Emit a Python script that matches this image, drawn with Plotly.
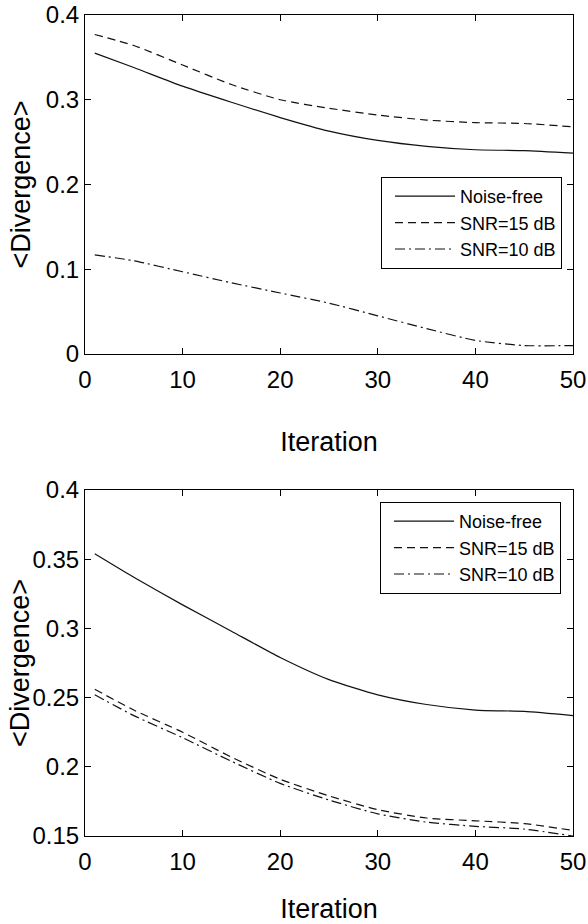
import plotly.graph_objects as go

iterations = [1, 5, 10, 15, 20, 25, 30, 35, 40, 45, 50]

# Top panel
top_noise_free = [0.355, 0.338, 0.316, 0.297, 0.279, 0.263, 0.252, 0.245, 0.241, 0.240, 0.237]
top_snr15 = [0.377, 0.364, 0.341, 0.318, 0.300, 0.290, 0.282, 0.276, 0.273, 0.272, 0.268]
top_snr10 = [0.117, 0.110, 0.097, 0.084, 0.072, 0.060, 0.045, 0.030, 0.016, 0.010, 0.010]

# Bottom panel
bot_noise_free = [0.354, 0.337, 0.317, 0.298, 0.279, 0.263, 0.252, 0.245, 0.241, 0.240, 0.237]
bot_snr15 = [0.256, 0.241, 0.225, 0.207, 0.191, 0.179, 0.169, 0.163, 0.161, 0.159, 0.154]
bot_snr10 = [0.252, 0.237, 0.221, 0.204, 0.188, 0.176, 0.166, 0.160, 0.157, 0.155, 0.150]

series_names = ["Noise-free", "SNR=15 dB", "SNR=10 dB"]
dashes = ["solid", "8px,5px", "10px,4px,2px,4px"]

W, H = 588, 924
FONT = "Liberation Sans, Arial, sans-serif"


def px_x(p):
    return p / W


def px_y(p):
    return 1 - p / H


fig = go.Figure()

for ys, name, dash in zip([top_noise_free, top_snr15, top_snr10], series_names, dashes):
    fig.add_trace(go.Scatter(x=iterations, y=ys, name=name, mode="lines",
                             line=dict(color="#111111", width=1.2, dash=dash, shape="spline", smoothing=0.6),
                             xaxis="x", yaxis="y", legend="legend"))
for ys, name, dash in zip([bot_noise_free, bot_snr15, bot_snr10], series_names, dashes):
    fig.add_trace(go.Scatter(x=iterations, y=ys, name=name, mode="lines",
                             line=dict(color="#111111", width=1.2, dash=dash, shape="spline", smoothing=0.6),
                             xaxis="x2", yaxis="y2", legend="legend2"))

x_dom = [px_x(85), px_x(573)]
top_dom = [px_y(354), px_y(15)]
bot_dom = [px_y(836), px_y(490)]

axis_common = dict(showline=True, linecolor="black", linewidth=1, mirror="ticks",
                   ticks="inside", ticklen=6, tickcolor="black", showgrid=False,
                   zeroline=False, automargin=False, ticklabeloverflow="allow",
                   tickfont=dict(family=FONT, size=24, color="black"))

legend_common = dict(xanchor="right", yanchor="top", bordercolor="black", borderwidth=1,
                     bgcolor="white", font=dict(family=FONT, size=18, color="black"),
                     tracegroupgap=0, itemwidth=60, indentation=8)

ytitle_font = dict(family=FONT, size=27, color="black")

fig.update_layout(
    width=W, height=H,
    margin=dict(l=0, r=0, t=0, b=0),
    paper_bgcolor="white", plot_bgcolor="white",
    font=dict(family=FONT, color="black"),
    xaxis=dict(domain=x_dom, anchor="y", range=[0, 50], tickvals=[0, 10, 20, 30, 40, 50],
               ticklabelstandoff=4,
               title=dict(text="Iteration", font=dict(size=27), standoff=40), **axis_common),
    yaxis=dict(domain=top_dom, anchor="x", range=[0, 0.4], tickvals=[0, 0.1, 0.2, 0.3, 0.4],
               ticklabelstandoff=0, **axis_common),
    xaxis2=dict(domain=x_dom, anchor="y2", range=[0, 50], tickvals=[0, 10, 20, 30, 40, 50],
                ticklabelstandoff=4,
                title=dict(text="Iteration", font=dict(size=27), standoff=40), **axis_common),
    yaxis2=dict(domain=bot_dom, anchor="x2", range=[0.15, 0.4],
                tickvals=[0.15, 0.2, 0.25, 0.3, 0.35, 0.4],
                ticklabelstandoff=0, **axis_common),
    legend=dict(x=px_x(562), y=px_y(177), **legend_common),
    legend2=dict(x=px_x(561), y=px_y(502), **legend_common),
    showlegend=True,
    annotations=[
        dict(text="&lt;Divergence&gt;", textangle=-90, xref="paper", yref="paper",
             x=px_x(20), y=sum(top_dom) / 2, xanchor="center", yanchor="middle",
             showarrow=False, font=ytitle_font),
        dict(text="&lt;Divergence&gt;", textangle=-90, xref="paper", yref="paper",
             x=px_x(20), y=sum(bot_dom) / 2, xanchor="center", yanchor="middle",
             showarrow=False, font=ytitle_font),
    ],
)

fig.write_html("out.html", config={"displayModeBar": False},
               post_script="document.body.style.margin='0';document.body.style.overflow='hidden';")
